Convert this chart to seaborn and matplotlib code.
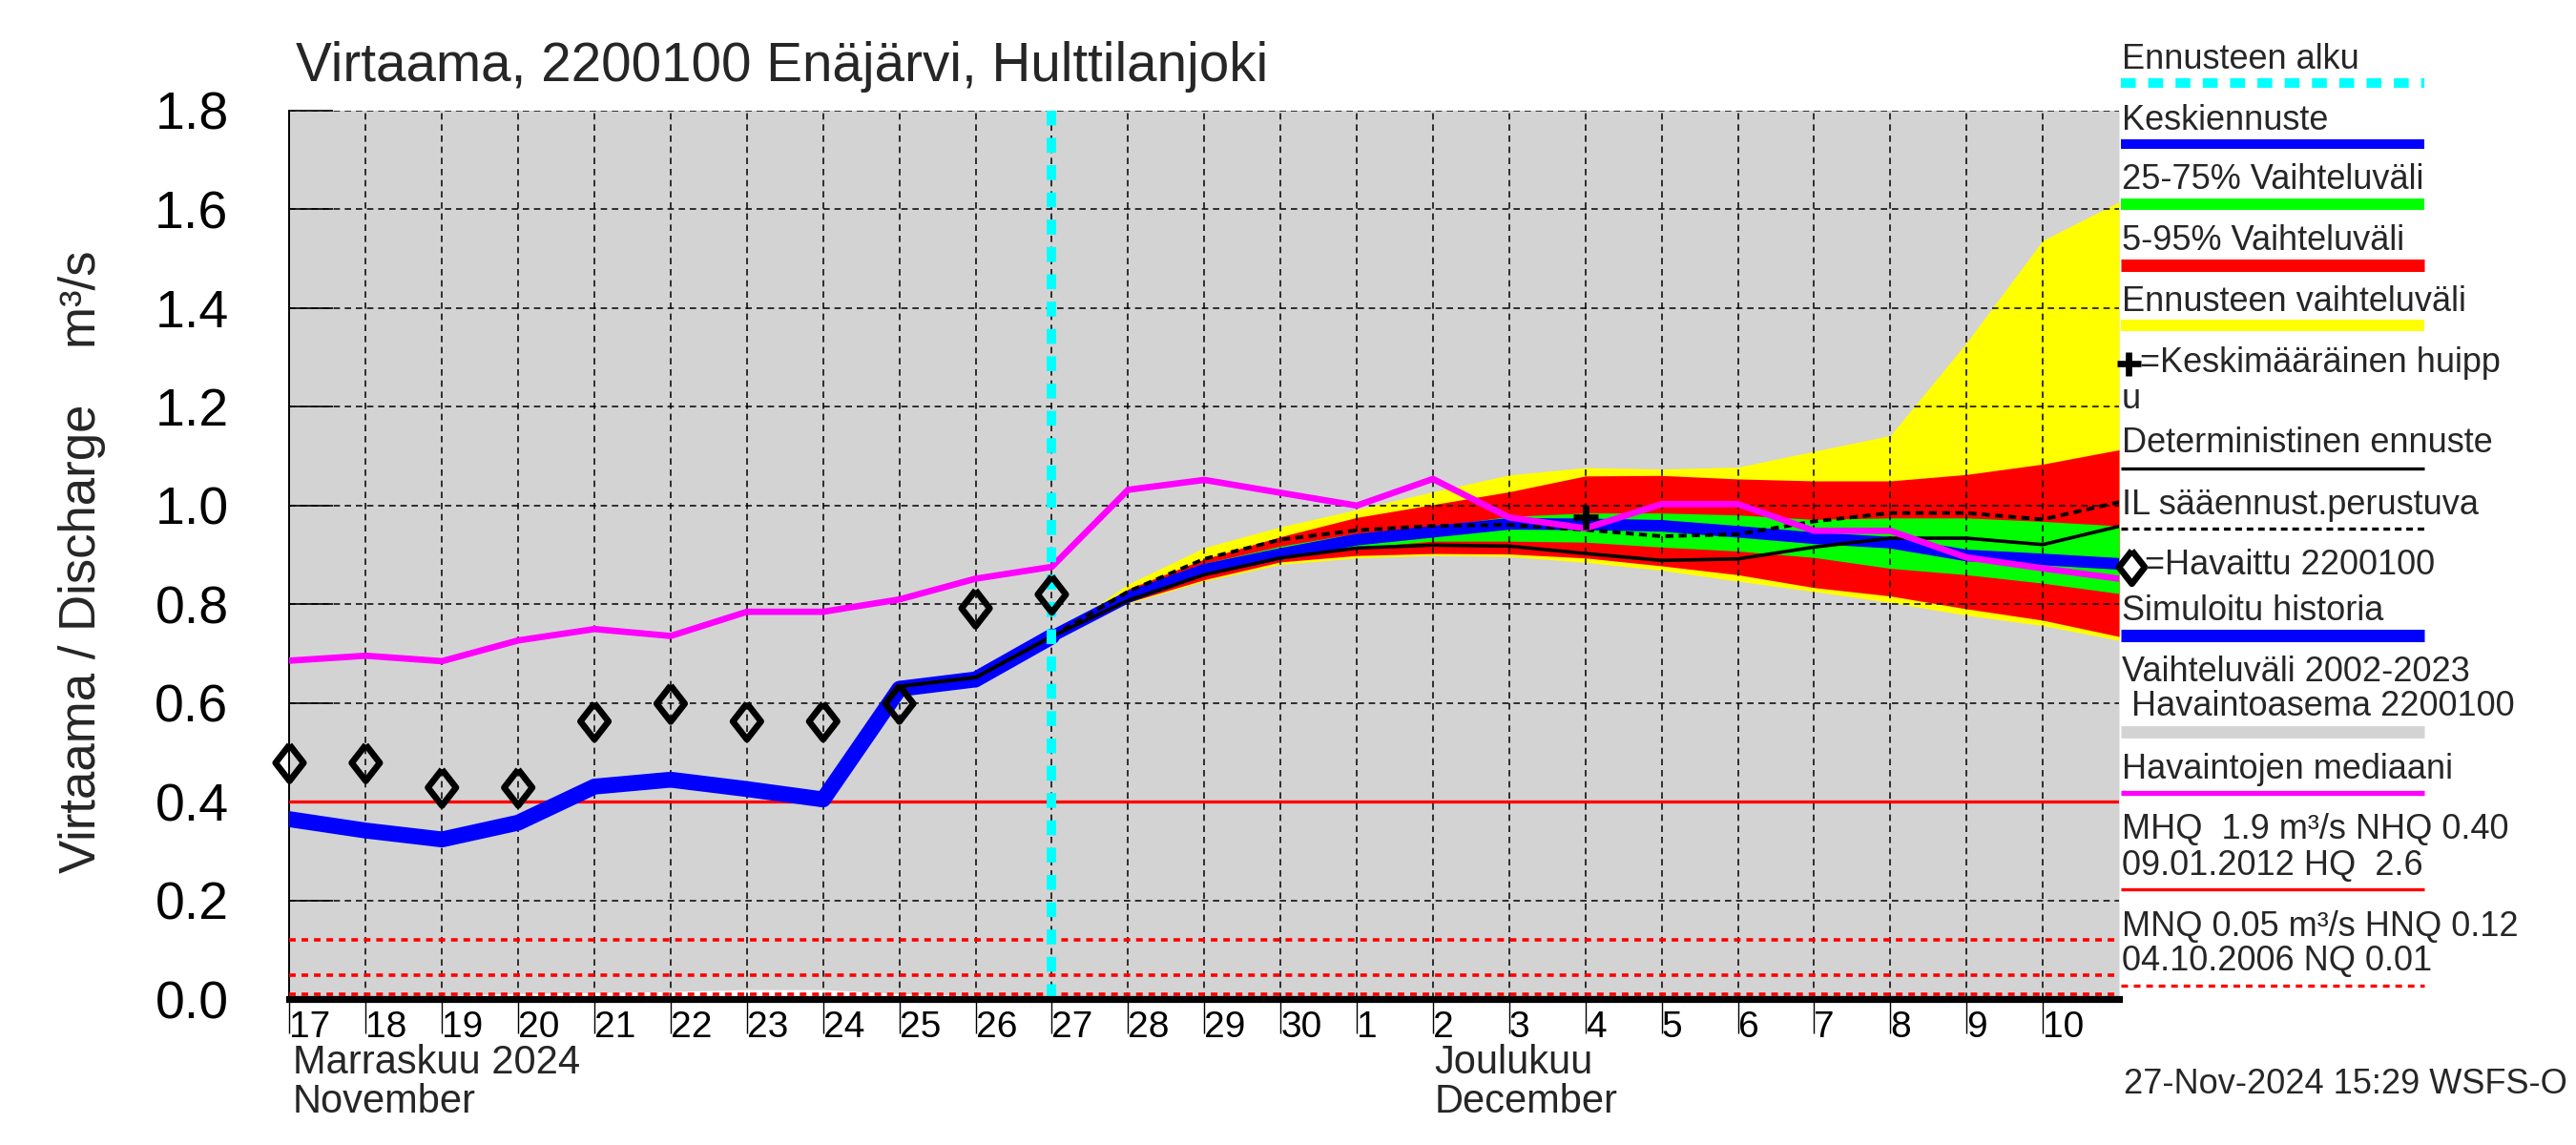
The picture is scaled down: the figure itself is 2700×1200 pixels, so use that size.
import matplotlib
matplotlib.use("Agg")
import matplotlib.pyplot as plt
from matplotlib.lines import Line2D
import numpy as np
import pandas as pd
import seaborn as sns

# Days on the x axis: index 0 = 17 Nov 2024 00:00, index 24 = 11 Dec 2024 00:00
day_labels = [17, 18, 19, 20, 21, 22, 23, 24, 25, 26, 27, 28, 29, 30,
              1, 2, 3, 4, 5, 6, 7, 8, 9, 10]
all_days = list(range(0, 25))
hist_days = list(range(0, 11))       # 17.11 .. 27.11
fc_days = list(range(10, 25))        # 27.11 .. 11.12
forecast_start = 10
dec_first = 14

# Observed discharge (diamonds) and simulated history
observed = [0.479, 0.479, 0.429, 0.429, 0.563, 0.599, 0.563, 0.563, 0.599, 0.792, 0.82]
simulated = [0.365, 0.342, 0.324, 0.358, 0.431, 0.445, 0.426, 0.405, 0.629, 0.648, 0.735]

# Median of observations 2002-2023
median_obs = [0.686, 0.696, 0.685, 0.727, 0.75, 0.736, 0.785, 0.785, 0.81, 0.852, 0.876,
              1.032, 1.052, 1.026, 1.0, 1.054, 0.976, 0.954, 1.003, 1.003, 0.949, 0.949,
              0.895, 0.873, 0.852]
# Lower edge of the 2002-2023 range (upper edge is above the plot)
hist_min = [0.0, 0.0, 0.008, 0.012, 0.014, 0.016, 0.02, 0.02, 0.012, 0.008, 0.006,
            0.005, 0.005, 0.005, 0.005, 0.005, 0.005, 0.005, 0.005, 0.005, 0.005, 0.005,
            0.005, 0.005, 0.005]
hist_top = 2.0

# Forecast ensemble
fc_max = [0.735, 0.841, 0.915, 0.957, 0.992, 1.028, 1.062, 1.077, 1.074, 1.078, 1.11, 1.142, 1.33, 1.537, 1.615]
fc_p95 = [0.735, 0.831, 0.892, 0.937, 0.976, 1.002, 1.028, 1.06, 1.061, 1.054, 1.05, 1.05, 1.063, 1.084, 1.113]
fc_p75 = [0.735, 0.821, 0.883, 0.918, 0.944, 0.957, 0.978, 0.985, 0.985, 0.981, 0.972, 0.975, 0.975, 0.968, 0.959]
fc_med = [0.735, 0.815, 0.87, 0.902, 0.931, 0.947, 0.963, 0.962, 0.959, 0.947, 0.934, 0.925, 0.899, 0.891, 0.882]
fc_p25 = [0.735, 0.808, 0.863, 0.895, 0.915, 0.928, 0.928, 0.926, 0.916, 0.908, 0.895, 0.873, 0.86, 0.843, 0.822]
fc_p05 = [0.735, 0.804, 0.85, 0.886, 0.899, 0.903, 0.902, 0.894, 0.878, 0.86, 0.834, 0.817, 0.791, 0.768, 0.735]
fc_min = [0.735, 0.802, 0.847, 0.881, 0.894, 0.899, 0.897, 0.885, 0.869, 0.847, 0.826, 0.804, 0.778, 0.757, 0.727]
det_days = list(range(8, 25))
deterministic = [0.634, 0.652, 0.735, 0.808, 0.86, 0.894, 0.914, 0.92, 0.918, 0.903, 0.889, 0.892,
                 0.916, 0.934, 0.934, 0.921, 0.958]
il_forecast = [0.735, 0.826, 0.892, 0.931, 0.95, 0.959, 0.961, 0.951, 0.938, 0.942, 0.968,
               0.985, 0.985, 0.972, 1.007]
peak_day = 17
peak_value = 0.976

# Reference levels
nhq = 0.40
low_levels = [0.12, 0.05, 0.01]

hist_df = pd.DataFrame({"day": hist_days, "observed": observed, "simulated": simulated})
fc_df = pd.DataFrame({"day": fc_days, "max": fc_max, "p95": fc_p95, "p75": fc_p75,
                      "med": fc_med, "p25": fc_p25, "p05": fc_p05, "min": fc_min,
                      "il": il_forecast})

# slightly tall diamond, like the one in the original chart
tall_diamond = [(0, 1), (0.78, 0), (0, -1), (-0.78, 0), (0, 1)]

sns.set_theme(style="white")
plt.rcParams["font.family"] = ["Liberation Sans", "DejaVu Sans"]
plt.rcParams["lines.scale_dashes"] = False

fig = plt.figure(figsize=(13.5, 6), dpi=200)
ax = fig.add_axes([0.1124, 0.1271, 0.8226 - 0.1124, 0.9035 - 0.1271])
ax.set_facecolor("white")

# historical range (grey)
ax.fill_between(all_days, hist_min, hist_top, color="#d3d3d3", lw=0, zorder=0.5)

# forecast bands
ax.fill_between(fc_df["day"], fc_df["min"], fc_df["max"], color="#ffff00", lw=0, zorder=1)
ax.fill_between(fc_df["day"], fc_df["p05"], fc_df["p95"], color="#ff0000", lw=0, zorder=1.1)
ax.fill_between(fc_df["day"], fc_df["p25"], fc_df["p75"], color="#00ff00", lw=0, zorder=1.2)

# reference levels
ax.axhline(nhq, color="#ff0000", lw=1.2, zorder=3)
for lv in low_levels:
    ax.axhline(lv, color="#ff0000", lw=1.3, dashes=(2.5, 2.2), zorder=3)

# lines
sns.lineplot(data=fc_df, x="day", y="med", color="#0000ff", lw=4.4, ax=ax, zorder=4)
sns.lineplot(x=det_days, y=deterministic, color="black", lw=1.3, ax=ax, zorder=4.2)
ax.plot(fc_df["day"], fc_df["il"], color="black", lw=1.4, dashes=(3.0, 2.0), zorder=4.3)
sns.lineplot(x=all_days, y=median_obs, color="#ff00ff", lw=2.4, ax=ax, zorder=4.5)
sns.lineplot(data=hist_df, x="day", y="simulated", color="#0000ff", lw=6.0, ax=ax, zorder=4.1)
sns.lineplot(x=det_days[:3], y=deterministic[:3], color="black", lw=1.3, ax=ax, zorder=4.2)

ax.axvline(forecast_start, color="#00ffff", lw=3.6, dashes=(5.6, 4.7), zorder=5)

ax.scatter(hist_df["day"], hist_df["observed"], marker=tall_diamond, s=185, facecolors="none",
           edgecolors="black", linewidths=2.4, zorder=6, clip_on=False)
ax.scatter([peak_day], [peak_value], marker="+", s=85, color="black", linewidths=2.4, zorder=6)

# axes styling
ax.set_xlim(0, 24)
ax.set_ylim(0, 1.8)
yt = np.arange(0, 1.81, 0.2)
ax.set_yticks(yt)
ax.set_yticklabels([f"{v:.1f}" for v in yt], fontsize=20)
ax.set_xticks(range(0, 24))
ax.set_xticklabels([str(d) for d in day_labels], fontsize=14)
for lab in ax.get_xticklabels():
    lab.set_ha("left")
ax.set_xticks([dec_first], minor=True)
ax.tick_params(axis="y", direction="in", length=16.5, width=0.6, pad=23, colors="black",
               left=True)
ax.tick_params(axis="x", which="major", direction="out", length=13, width=0.5, pad=-9,
               colors="black", bottom=True)
ax.tick_params(axis="x", which="minor", direction="out", length=27, width=0.5, bottom=True)
ax.grid(True, which="major", color="black", lw=0.55, linestyle=(0, (2.4, 1.8)))
ax.set_axisbelow(False)
for side in ["top", "right"]:
    ax.spines[side].set_visible(False)
ax.spines["left"].set_color("black")
ax.spines["left"].set_linewidth(0.7)
ax.spines["bottom"].set_color("black")
ax.spines["bottom"].set_linewidth(2.6)
ax.spines["bottom"].set_zorder(7)
ax.set_xlabel("")
ax.set_ylabel("")

# month labels
trans = ax.get_xaxis_transform()
ax.text(0.04, -0.071, "Marraskuu 2024", transform=trans, fontsize=15, ha="left", va="center")
ax.text(0.04, -0.115, "November", transform=trans, fontsize=15, ha="left", va="center")
ax.text(15.02, -0.071, "Joulukuu", transform=trans, fontsize=15, ha="left", va="center")
ax.text(15.02, -0.115, "December", transform=trans, fontsize=15, ha="left", va="center")

# title, y label, timestamp
fig.text(0.1148, 0.942, "Virtaama, 2200100 Enäjärvi, Hulttilanjoki", fontsize=20.4,
         ha="left", va="center")
fig.text(0.032, 0.5096, "Virtaama / Discharge    m³/s", fontsize=19, rotation=90,
         ha="center", va="center")
fig.text(0.9965, 0.053, "27-Nov-2024 15:29 WSFS-O", fontsize=13, ha="right", va="center")

# legend on the right
LX0, LX1 = 2223 / 2700, 2541 / 2700
TX = 2224 / 2700


def fy(v):
    return 1 - v / 1200


def leg_text(v, s, x=TX):
    fig.text(x, fy(v), s, fontsize=13, ha="left", va="center")


def leg_line(v, color, lw, dashes=None):
    ln = Line2D([LX0, LX1], [fy(v), fy(v)], transform=fig.transFigure, color=color,
                lw=lw, solid_capstyle="butt")
    if dashes:
        ln.set_dashes(dashes)
        ln.set_dash_capstyle("butt")
    fig.add_artist(ln)


leg_text(63, "Ennusteen alku")
leg_line(87, "#00ffff", 3.6, (5.6, 4.7))
leg_text(127, "Keskiennuste")
leg_line(151, "#0000ff", 3.6)
leg_text(189, "25-75% Vaihteluväli")
leg_line(214, "#00ff00", 4.3)
leg_text(253, "5-95% Vaihteluväli")
leg_line(278, "#ff0000", 4.7)
leg_text(316, "Ennusteen vaihteluväli")
leg_line(341, "#ffff00", 4.3)
fig.add_artist(Line2D([2231 / 2700], [fy(381)], transform=fig.transFigure, marker="+",
                      ms=9, mew=2.4, color="black", ls="none"))
leg_text(380, "=Keskimääräinen huipp", x=2243 / 2700)
leg_text(418, "u")
leg_text(465, "Deterministinen ennuste")
leg_line(491, "black", 1.2)
leg_text(529, "IL sääennust.perustuva")
leg_line(554, "black", 1.2, (2.5, 1.8))
fig.add_artist(Line2D([2234 / 2700], [fy(594)], transform=fig.transFigure, marker=tall_diamond,
                      ms=12.5, mew=2.4, mfc="none", mec="black", ls="none"))
leg_text(593, "=Havaittu 2200100", x=2248 / 2700)
leg_text(640, "Simuloitu historia")
leg_line(666, "#0000ff", 4.7)
leg_text(704, "Vaihteluväli 2002-2023")
leg_text(741, " Havaintoasema 2200100")
leg_line(767, "#d3d3d3", 4.6)
leg_text(806, "Havaintojen mediaani")
leg_line(831, "#ff00ff", 1.9)
leg_text(870, "MHQ  1.9 m³/s NHQ 0.40")
leg_text(907, "09.01.2012 HQ  2.6")
leg_line(932, "#ff0000", 1.2)
leg_text(971, "MNQ 0.05 m³/s HNQ 0.12")
leg_text(1008, "04.10.2006 NQ 0.01")
leg_line(1033, "#ff0000", 1.2, (2.5, 2.2))

fig.savefig("out.png", dpi=200)
